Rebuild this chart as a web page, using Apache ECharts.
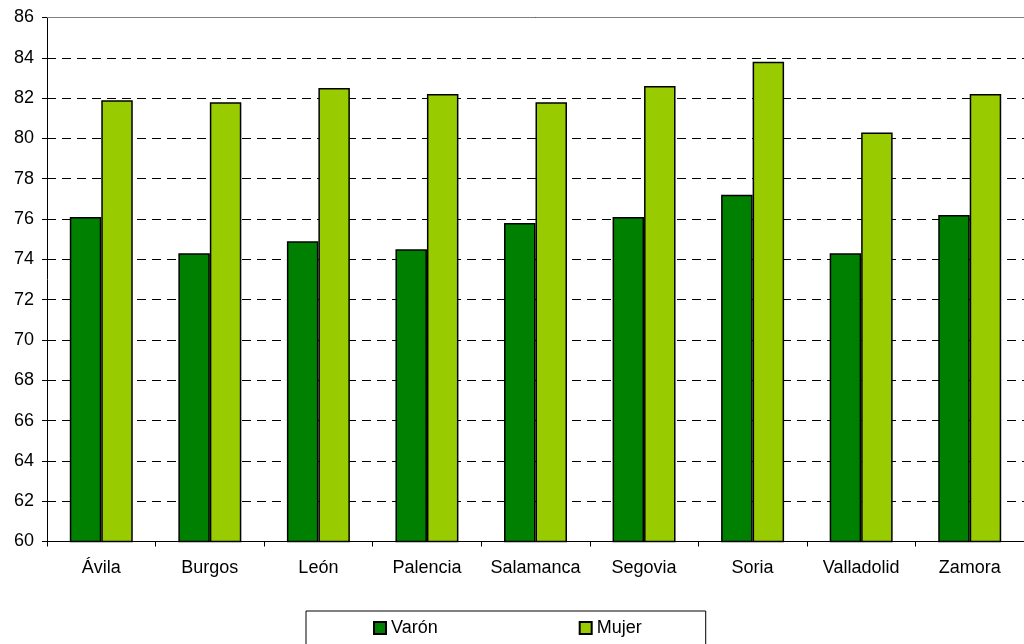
<!DOCTYPE html>
<html>
<head>
<meta charset="utf-8">
<script src="https://cdn.jsdelivr.net/npm/echarts@6/dist/echarts.min.js"></script>
<style>
html,body{margin:0;padding:0;background:#fff;}
#chart{width:1024px;height:644px;}
</style>
</head>
<body>
<div id="chart"></div>
<script>
var categories = ['Ávila','Burgos','León','Palencia','Salamanca','Segovia','Soria','Valladolid','Zamora'];
var varon = [76.1, 74.3, 74.9, 74.5, 75.8, 76.1, 77.2, 74.3, 76.2];
var mujer = [81.9, 81.8, 82.5, 82.2, 81.8, 82.6, 83.8, 80.3, 82.2];
var yTicks = {min: 60, max: 86, interval: 2};

var font = '"Liberation Sans", Arial, sans-serif';
var chart = echarts.init(document.getElementById('chart'), null, {renderer: 'canvas'});
chart.setOption({
  animation: false,
  backgroundColor: '#fff',
  textStyle: {fontFamily: font},
  grid: {left: 47, top: 17.5, width: 984, bottom: 102.5, containLabel: false},
  legend: {
    data: ['Varón', 'Mujer'],
    left: 306, top: 611,
    padding: [8, 64, 30, 67],
    itemGap: 141,
    itemWidth: 12, itemHeight: 12,
    borderColor: '#000', borderWidth: 1,
    icon: 'rect',
    textStyle: {fontFamily: font, fontSize: 18, color: '#000'}
  },
  xAxis: {
    type: 'category',
    data: categories,
    axisLine: {lineStyle: {color: '#000', width: 1}},
    axisTick: {show: true, interval: 0, length: 5, lineStyle: {color: '#000'}},
    axisLabel: {interval: 0, color: '#000', fontSize: 18, fontFamily: font, margin: 18},
    splitLine: {show: false}
  },
  yAxis: {
    type: 'value',
    min: yTicks.min, max: yTicks.max, interval: yTicks.interval,
    axisLine: {show: true, lineStyle: {color: '#000', width: 1}},
    axisTick: {show: true, length: 5, lineStyle: {color: '#000'}},
    axisLabel: {color: '#000', fontSize: 18, fontFamily: font, margin: 13},
    splitLine: {show: true, lineStyle: {color: '#000', width: 1, type: [9, 6]}}
  },
  series: [
    {
      name: 'Varón', type: 'bar', data: varon,
      barGap: '0%', barCategoryGap: '42%',
      itemStyle: {color: '#008000', borderColor: '#000', borderWidth: 1.5},
      markLine: {
        silent: true, symbol: 'none', label: {show: false},
        lineStyle: {color: '#808080', type: 'solid', width: 1},
        data: [{yAxis: 86}]
      }
    },
    {
      name: 'Mujer', type: 'bar', data: mujer,
      barGap: '0%', barCategoryGap: '42%',
      itemStyle: {color: '#99CC00', borderColor: '#000', borderWidth: 1.5}
    }
  ]
});
</script>
</body>
</html>
